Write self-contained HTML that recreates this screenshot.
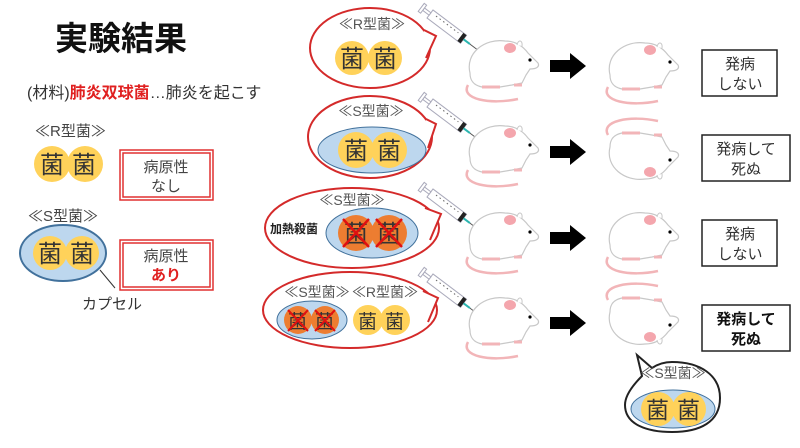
<!DOCTYPE html>
<html><head><meta charset="utf-8"><style>
html,body{margin:0;padding:0;background:#fff;}
svg{display:block;font-family:"Liberation Sans","Noto Sans CJK JP",sans-serif;}
</style></head><body>
<svg width="800" height="448" viewBox="0 0 800 448" xmlns="http://www.w3.org/2000/svg">
<defs>
<g id="mouse">
  <path d="M8,52 C0,66 30,72 58,66" fill="none" stroke="#f2b5b8" stroke-width="2.5"/>
  <path d="M10,40 C5,20 25,5 45,8 C55,8 62,12 68,20 L78,30 C80,34 76,36 70,36 L66,42 L62,50 L52,52 L40,54 L22,54 C12,52 10,46 10,40 Z" fill="#fff" stroke="#c8c8c8" stroke-width="1.2"/>
  <path d="M22,54 L40,54" stroke="#f2b5b8" stroke-width="3"/>
  <path d="M54,52 L62,52" stroke="#f2b5b8" stroke-width="3"/>
  <ellipse cx="50" cy="15" rx="6" ry="5" fill="#f4a6ad"/>
  <path d="M57,12 C58,6 63,7 62,13" fill="#fff" stroke="#c8c8c8"/>
  <circle cx="70" cy="27" r="1.6" fill="#000"/>
</g>
<g id="syr">
  <rect x="0" y="-5" width="42" height="10" fill="#fff" stroke="#aab" stroke-width="1"/>
  <rect x="-8" y="-1.5" width="8" height="3" fill="#fff" stroke="#aab"/>
  <rect x="-11" y="-5" width="3" height="10" fill="#fff" stroke="#aab"/>
  <rect x="38" y="-5" width="4" height="10" fill="#222"/>
  <line x1="42" y1="0" x2="50" y2="0" stroke="#2bb5b0" stroke-width="2"/>
  <line x1="50" y1="0" x2="60" y2="0" stroke="#555" stroke-width="1"/>
  <path d="M6,-2 h28" stroke="#666" stroke-dasharray="1.5 3" stroke-width="1"/>
</g>
<g id="arr"><polygon points="0,-6 20,-6 20,-13 36,0 20,13 20,6 0,6" fill="#000"/></g>
</defs>

<!-- left -->
<text x="55" y="50" font-size="33" font-weight="bold" fill="#111">実験結果</text>
<text x="27" y="98" font-size="16" fill="#333">(材料)<tspan fill="#e02020" font-weight="bold">肺炎双球菌</tspan>…肺炎を起こす</text>
<text x="35" y="136" font-size="15" fill="#444">≪R型菌≫</text>
<circle cx="52" cy="164" r="18" fill="#ffd25a"/><circle cx="85" cy="164" r="18" fill="#ffd25a"/>
<text x="40" y="173" font-size="24" fill="#333">菌</text><text x="72" y="173" font-size="24" fill="#333">菌</text>
<rect x="120" y="150" width="93" height="50" fill="#fff" stroke="#e03030" stroke-width="1.5"/>
<rect x="123" y="153" width="87" height="44" fill="none" stroke="#e03030" stroke-width="1.5"/>
<text x="166" y="172" font-size="15" fill="#444" text-anchor="middle">病原性</text>
<text x="166" y="191" font-size="15" fill="#444" text-anchor="middle">なし</text>
<text x="28" y="221" font-size="15" fill="#444">≪S型菌≫</text>
<ellipse cx="63" cy="253" rx="43" ry="28" fill="#bdd7ee" stroke="#41719c" stroke-width="2"/>
<circle cx="50" cy="253" r="17" fill="#ffd25a"/><circle cx="82" cy="253" r="17" fill="#ffd25a"/>
<text x="38" y="262" font-size="24" fill="#333">菌</text><text x="70" y="262" font-size="24" fill="#333">菌</text>
<rect x="120" y="240" width="93" height="50" fill="#fff" stroke="#e03030" stroke-width="1.5"/>
<rect x="123" y="243" width="87" height="44" fill="none" stroke="#e03030" stroke-width="1.5"/>
<text x="166" y="261" font-size="15" fill="#444" text-anchor="middle">病原性</text>
<text x="166" y="280" font-size="15" fill="#e02020" font-weight="bold" text-anchor="middle">あり</text>
<line x1="100" y1="270" x2="115" y2="288" stroke="#333"/>
<text x="82" y="309" font-size="15" fill="#333">カプセル</text>

<!-- bubbles -->
<g fill="#fff" stroke="#d42a2a" stroke-width="2">
<ellipse cx="370" cy="48" rx="60" ry="40"/>
<ellipse cx="370" cy="137" rx="62" ry="41"/>
<ellipse cx="352" cy="228" rx="87" ry="40"/>
<ellipse cx="350" cy="310" rx="87" ry="38"/>
</g>
<g fill="#fff" stroke="none">
<polygon points="424,30 436,36 426,58 421,50"/>
<polygon points="426,119 436,124 428,148 423,140"/>
<polygon points="425,208 441,214 430,240 424,232"/>
<polygon points="423,291 438,298 428,322 421,314"/>
</g>
<g fill="none" stroke="#d42a2a" stroke-width="2">
<polyline points="424,30 436,36 426,58"/>
<polyline points="426,119 436,124 428,148"/>
<polyline points="425,208 441,214 430,240"/>
<polyline points="423,291 438,298 428,322"/>
</g>
<text x="372" y="29" font-size="14" fill="#555" text-anchor="middle">≪R型菌≫</text>
<circle cx="352" cy="58" r="17" fill="#ffd25a"/><circle cx="385" cy="58" r="17" fill="#ffd25a"/>
<text x="340" y="67" font-size="24" fill="#333">菌</text><text x="373" y="67" font-size="24" fill="#333">菌</text>

<text x="371" y="116" font-size="14" fill="#555" text-anchor="middle">≪S型菌≫</text>
<ellipse cx="372" cy="150" rx="54" ry="23" fill="#bdd7ee" stroke="#41719c" stroke-width="1"/>
<circle cx="356" cy="150" r="18" fill="#ffd25a"/><circle cx="389" cy="150" r="18" fill="#ffd25a"/>
<text x="344" y="159" font-size="24" fill="#333">菌</text><text x="377" y="159" font-size="24" fill="#333">菌</text>

<text x="352" y="205" font-size="14" fill="#555" text-anchor="middle">≪S型菌≫</text>
<text x="270" y="233" font-size="12" font-weight="bold" fill="#222">加熱殺菌</text>
<ellipse cx="372" cy="233" rx="46" ry="25" fill="#bdd7ee" stroke="#41719c" stroke-width="1"/>
<circle cx="356" cy="233" r="18" fill="#ed7d31"/><circle cx="389" cy="233" r="18" fill="#ed7d31"/>
<text x="344" y="242" font-size="24" fill="#333">菌</text><text x="377" y="242" font-size="24" fill="#333">菌</text>
<g stroke="#e01010" stroke-width="2.5"><path d="M343,219 L369,247 M369,219 L343,247 M376,219 L402,247 M402,219 L376,247"/></g>

<text x="317" y="297" font-size="14" fill="#555" text-anchor="middle">≪S型菌≫</text>
<text x="385" y="297" font-size="14" fill="#555" text-anchor="middle">≪R型菌≫</text>
<ellipse cx="312" cy="320" rx="35" ry="19" fill="#bdd7ee" stroke="#41719c" stroke-width="1"/>
<circle cx="298" cy="320" r="14" fill="#ed7d31"/><circle cx="325" cy="320" r="14" fill="#ed7d31"/>
<text x="288" y="328" font-size="19" fill="#333">菌</text><text x="315" y="328" font-size="19" fill="#333">菌</text>
<g stroke="#e01010" stroke-width="2"><path d="M288,310 L308,331 M308,310 L288,331 M315,310 L335,331 M335,310 L315,331"/></g>
<circle cx="368" cy="320" r="15" fill="#ffd25a"/><circle cx="395" cy="320" r="15" fill="#ffd25a"/>
<text x="358" y="328" font-size="19" fill="#333">菌</text><text x="385" y="328" font-size="19" fill="#333">菌</text>

<!-- syringes -->
<use href="#syr" transform="translate(430,14) rotate(37)"/>
<use href="#syr" transform="translate(430,103) rotate(37)"/>
<use href="#syr" transform="translate(430,193) rotate(37)"/>
<use href="#syr" transform="translate(430,278) rotate(37)"/>

<!-- mice -->
<use href="#mouse" transform="translate(460,33)"/>
<use href="#mouse" transform="translate(460,118)"/>
<use href="#mouse" transform="translate(460,205)"/>
<use href="#mouse" transform="translate(460,290)"/>
<use href="#arr" transform="translate(550,66)"/>
<use href="#arr" transform="translate(550,152)"/>
<use href="#arr" transform="translate(550,238)"/>
<use href="#arr" transform="translate(550,323)"/>
<use href="#mouse" transform="translate(600,35)"/>
<use href="#mouse" transform="translate(600,187) scale(1,-1)"/>
<use href="#mouse" transform="translate(600,205)"/>
<use href="#mouse" transform="translate(600,352) scale(1,-1)"/>

<!-- result boxes -->
<g fill="#fff" stroke="#222" stroke-width="1.5">
<rect x="702" y="50" width="75" height="46"/>
<rect x="702" y="135" width="88" height="46"/>
<rect x="702" y="220" width="75" height="46"/>
<rect x="702" y="305" width="88" height="46"/>
</g>
<g font-size="15" fill="#333" text-anchor="middle">
<text x="740" y="69">発病</text><text x="740" y="89">しない</text>
<text x="746" y="154">発病して</text><text x="746" y="174">死ぬ</text>
<text x="740" y="239">発病</text><text x="740" y="259">しない</text>
<text x="746" y="324" font-weight="bold" fill="#111">発病して</text><text x="746" y="344" font-weight="bold" fill="#111">死ぬ</text>
</g>

<!-- bottom bubble -->
<path d="M652,368 L637,355 L642,376 C630,388 625,398 625,405 C625,425 648,432 672,432 C700,432 720,422 720,398 C720,375 700,362 672,362 C665,362 658,364 652,368 Z" fill="#fff" stroke="#222" stroke-width="2"/>
<text x="673" y="378" font-size="14" fill="#555" text-anchor="middle">≪S型菌≫</text>
<ellipse cx="673" cy="409" rx="42" ry="19" fill="#bdd7ee" stroke="#41719c" stroke-width="1"/>
<circle cx="658" cy="409" r="17" fill="#ffd25a"/><circle cx="689" cy="409" r="17" fill="#ffd25a"/>
<text x="646" y="418" font-size="23" fill="#333">菌</text><text x="677" y="418" font-size="23" fill="#333">菌</text>
</svg>
</body></html>
